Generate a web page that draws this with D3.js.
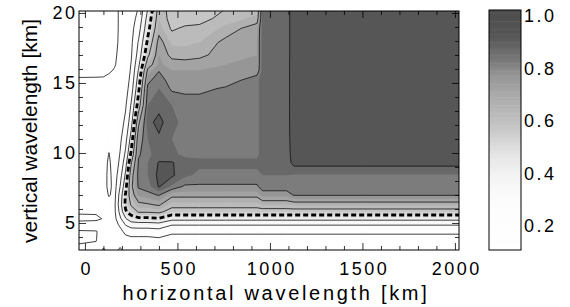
<!DOCTYPE html>
<html lang="en">
<head>
<meta charset="UTF-8">
<title>Coherence vs horizontal and vertical wavelength</title>
<script src="https://cdn.jsdelivr.net/npm/d3@7"></script>
<style>
  body { margin: 0; background: #fff; }
  text { font-family: "Liberation Sans", Arial, Helvetica, sans-serif; fill: #000; }
</style>
</head>
<body>
<svg id="chart" width="570" height="307"></svg>
<script>
// grid nodes, horizontal wavelength [km]
var hWave = [-32, 60, 100, 130, 160, 190, 220, 250, 290, 340, 400, 470, 540, 620, 760, 930, 960, 1090, 1130, 1500, 2022];
// grid nodes, vertical wavelength [km]
var vWave = [3.07, 3.8, 4.4, 4.9, 5.3, 5.8, 6.3, 7.0, 7.6, 8.4, 9.3, 9.9, 11.0, 12.2, 13.4, 14.6, 15.2, 15.9, 16.3, 17.0, 17.9, 18.9, 19.6, 20.14];
// values, one row per vWave node (bottom row first)
var field = [
  [0.185,0.175,0.09,0.12,0.12,0.09,0.12,0.12,0.12,0.12,0.13,0.12,0.12,0.12,0.12,0.12,0.12,0.12,0.12,0.12,0.12],
  [0.21,0.205,0.14,0.14,0.14,0.13,0.16,0.17,0.17,0.17,0.18,0.16,0.16,0.16,0.16,0.16,0.16,0.16,0.16,0.16,0.16],
  [0.21,0.205,0.17,0.15,0.15,0.17,0.23,0.25,0.25,0.25,0.26,0.22,0.22,0.22,0.22,0.22,0.22,0.22,0.22,0.22,0.22],
  [0.13,0.13,0.14,0.14,0.16,0.22,0.31,0.35,0.36,0.36,0.37,0.31,0.31,0.31,0.31,0.31,0.31,0.31,0.31,0.31,0.31],
  [0.08,0.085,0.105,0.13,0.17,0.28,0.39,0.46,0.48,0.48,0.49,0.43,0.43,0.43,0.43,0.43,0.43,0.43,0.43,0.43,0.43],
  [0.11,0.11,0.12,0.13,0.18,0.33,0.49,0.54,0.61,0.61,0.62,0.56,0.56,0.56,0.56,0.56,0.56,0.56,0.56,0.56,0.56],
  [0.13,0.13,0.13,0.15,0.18,0.36,0.52,0.61,0.68,0.69,0.71,0.63,0.63,0.63,0.63,0.63,0.65,0.65,0.66,0.66,0.66],
  [0.13,0.13,0.14,0.21,0.17,0.34,0.51,0.66,0.76,0.78,0.805,0.72,0.72,0.72,0.72,0.72,0.77,0.77,0.805,0.805,0.805],
  [0.13,0.13,0.15,0.23,0.16,0.30,0.47,0.68,0.81,0.83,0.905,0.84,0.79,0.79,0.79,0.79,0.83,0.83,0.83,0.83,0.83],
  [0.13,0.13,0.15,0.23,0.15,0.26,0.42,0.66,0.82,0.85,0.915,0.91,0.86,0.84,0.84,0.84,0.85,0.85,0.845,0.845,0.845],
  [0.13,0.13,0.15,0.22,0.14,0.22,0.36,0.59,0.81,0.85,0.905,0.905,0.87,0.86,0.86,0.86,0.87,0.87,0.92,0.92,0.92],
  [0.13,0.13,0.14,0.205,0.14,0.205,0.32,0.52,0.79,0.84,0.87,0.86,0.84,0.84,0.84,0.84,0.87,0.87,0.93,0.93,0.93],
  [0.13,0.13,0.13,0.16,0.13,0.18,0.27,0.44,0.76,0.85,0.89,0.85,0.84,0.84,0.84,0.84,0.87,0.87,0.94,0.945,0.94],
  [0.13,0.13,0.13,0.14,0.13,0.16,0.22,0.36,0.68,0.88,0.92,0.86,0.84,0.84,0.84,0.84,0.87,0.87,0.945,0.945,0.945],
  [0.125,0.125,0.125,0.13,0.12,0.15,0.19,0.31,0.55,0.85,0.88,0.85,0.84,0.84,0.84,0.84,0.87,0.87,0.945,0.945,0.945],
  [0.12,0.12,0.12,0.125,0.12,0.14,0.16,0.25,0.48,0.82,0.85,0.79,0.78,0.78,0.81,0.84,0.87,0.87,0.945,0.945,0.945],
  [0.115,0.115,0.115,0.12,0.11,0.13,0.15,0.23,0.45,0.78,0.84,0.76,0.75,0.75,0.76,0.84,0.87,0.87,0.945,0.945,0.945],
  [0.06,0.065,0.07,0.09,0.105,0.12,0.15,0.21,0.41,0.72,0.795,0.75,0.75,0.75,0.75,0.76,0.87,0.87,0.945,0.945,0.945],
  [0.06,0.065,0.07,0.085,0.095,0.12,0.14,0.205,0.38,0.66,0.76,0.73,0.73,0.74,0.75,0.75,0.87,0.87,0.945,0.945,0.945],
  [0.06,0.065,0.07,0.08,0.09,0.115,0.14,0.19,0.34,0.58,0.75,0.68,0.67,0.68,0.74,0.75,0.87,0.87,0.94,0.945,0.94],
  [0.06,0.065,0.07,0.08,0.085,0.11,0.14,0.18,0.31,0.52,0.73,0.64,0.64,0.65,0.72,0.75,0.87,0.87,0.94,0.945,0.94],
  [0.06,0.065,0.07,0.08,0.08,0.11,0.13,0.17,0.26,0.47,0.67,0.59,0.61,0.62,0.66,0.74,0.87,0.87,0.94,0.94,0.94],
  [0.06,0.065,0.07,0.08,0.08,0.11,0.13,0.16,0.23,0.44,0.65,0.57,0.57,0.57,0.63,0.66,0.87,0.87,0.94,0.94,0.94],
  [0.06,0.065,0.07,0.08,0.08,0.11,0.13,0.15,0.21,0.41,0.64,0.57,0.56,0.56,0.605,0.64,0.87,0.87,0.94,0.94,0.94]
];

var xMajor = [0, 500, 1000, 1500, 2000];
var yMajor = [5, 10, 15, 20];
var cbTicks = [0.2, 0.4, 0.6, 0.8, 1.0];

var lineLevels = [0.1, 0.2, 0.3, 0.4, 0.6, 0.7, 0.8, 0.9];
var dashLevel = 0.5;
var fillLevels = d3.range(2, 20).map(function(k) { return k * 0.05; });

// grey table for the shading
var grayStops = [0.1, 0.3, 0.4, 0.475, 0.525, 0.575, 0.675, 0.775, 0.825, 0.875, 0.925, 1.0];
var grayLevels = [255, 252, 242, 228, 214, 198, 176, 150, 124, 104, 86, 78];
var grayScale = d3.scaleLinear().domain(grayStops).range(grayLevels).clamp(true);
function gray(v) {
  var c = Math.round(grayScale(v));
  return d3.rgb(c, c, c).toString();
}

var plot = {left: 79, right: 459, top: 11, bottom: 250};
var cb = {left: 489, right: 521, top: 10, bottom: 250};

var x = d3.scaleLinear().domain([-32, 2022]).range([plot.left, plot.right]);
var y = d3.scaleLinear().domain([3.07, 20.14]).range([plot.bottom, plot.top]);
var cbY = d3.scaleLinear().domain([0.2, 1.0]).range([226, 16]);

var svg = d3.select("#chart");
var defs = svg.append("defs");
defs.append("clipPath").attr("id", "plotclip").append("rect")
  .attr("x", plot.left).attr("y", plot.top)
  .attr("width", plot.right - plot.left).attr("height", plot.bottom - plot.top);
defs.append("clipPath").attr("id", "cbclip").append("rect")
  .attr("x", cb.left).attr("y", cb.top)
  .attr("width", cb.right - cb.left).attr("height", cb.bottom - cb.top);

// contour grid coords -> km (values sit at index + 0.5)
function nodeAt(nodes, u) {
  var i = Math.max(0, Math.min(nodes.length - 2, Math.floor(u)));
  return nodes[i] + (u - i) * (nodes[i + 1] - nodes[i]);
}
var proj = d3.geoTransform({
  point: function(px, py) {
    this.stream.point(x(nodeAt(hWave, px - 0.5)), y(nodeAt(vWave, py - 0.5)));
  }
});
var path = d3.geoPath(proj);

var values = [].concat.apply([], field);
var contours = d3.contours().size([hWave.length, vWave.length]);

var g = svg.append("g").attr("clip-path", "url(#plotclip)");
g.append("rect")
  .attr("x", plot.left).attr("y", plot.top)
  .attr("width", plot.right - plot.left).attr("height", plot.bottom - plot.top)
  .attr("fill", "#fff");

fillLevels.forEach(function(t) {
  g.append("path")
    .datum(contours.contour(values, t))
    .attr("d", path)
    .attr("fill", gray(t + 0.025));
});

lineLevels.forEach(function(t) {
  g.append("path")
    .datum(contours.contour(values, t))
    .attr("d", path)
    .attr("fill", "none")
    .attr("stroke", "#111")
    .attr("stroke-width", 0.8);
});

g.append("path")
  .datum(contours.contour(values, dashLevel))
  .attr("d", path)
  .attr("fill", "none")
  .attr("stroke", "#000")
  .attr("stroke-width", 2.8)
  .attr("stroke-dasharray", "5,3");

// frame
svg.append("rect")
  .attr("x", plot.left).attr("y", plot.top)
  .attr("width", plot.right - plot.left).attr("height", plot.bottom - plot.top)
  .attr("fill", "none").attr("stroke", "#000").attr("stroke-width", 1);

var xMinor = d3.range(100, 2000, 100).filter(function(v) { return v % 500; });
var yMinor = d3.range(4, 20).filter(function(v) { return v % 5; });

function ticks(axis, tx, ty) {
  var a = svg.append("g").attr("transform", "translate(" + tx + "," + ty + ")").call(axis);
  a.select(".domain").remove();
  return a;
}

var tickFont = 18, tickSpace = 2.5;

var bx = ticks(d3.axisBottom(x).tickValues(xMajor).tickSize(-7).tickPadding(12).tickFormat(d3.format("d")), 0, plot.bottom);
bx.selectAll("text").attr("font-size", tickFont).attr("letter-spacing", tickSpace).attr("dx", tickSpace / 2);
ticks(d3.axisBottom(x).tickValues(xMinor).tickSize(-4).tickFormat(""), 0, plot.bottom);
ticks(d3.axisTop(x).tickValues(xMajor).tickSize(-7).tickFormat(""), 0, plot.top);
ticks(d3.axisTop(x).tickValues(xMinor).tickSize(-4).tickFormat(""), 0, plot.top);

var ly = ticks(d3.axisLeft(y).tickValues(yMajor).tickSize(-7).tickPadding(0).tickFormat(d3.format("d")), plot.left, 0);
ly.selectAll("text").attr("font-size", tickFont).attr("letter-spacing", tickSpace).attr("dx", tickSpace - 4);
ticks(d3.axisLeft(y).tickValues(yMinor).tickSize(-4).tickFormat(""), plot.left, 0);
ticks(d3.axisRight(y).tickValues(yMajor).tickSize(-7).tickFormat(""), plot.right, 0);
ticks(d3.axisRight(y).tickValues(yMinor).tickSize(-4).tickFormat(""), plot.right, 0);

svg.selectAll(".tick line").attr("stroke", "#000").attr("stroke-width", 0.8);

// axis titles
svg.append("text")
  .attr("x", 276).attr("y", 300)
  .attr("text-anchor", "middle")
  .attr("font-size", 20).attr("letter-spacing", 2.7)
  .text("horizontal wavelength [km]");

svg.append("text")
  .attr("transform", "translate(37,131) rotate(-90)")
  .attr("text-anchor", "middle")
  .attr("font-size", 21)
  .text("vertical wavelength [km]");

// colour bar
var cbg = svg.append("g").attr("clip-path", "url(#cbclip)");
cbg.selectAll("rect")
  .data(d3.range(10, 103).map(function(k) { return k * 0.01; }))
  .join("rect")
  .attr("x", cb.left).attr("width", cb.right - cb.left)
  .attr("y", function(t) { return cbY(t + 0.01); })
  .attr("height", function(t) { return cbY(t) - cbY(t + 0.01) + 0.5; })
  .attr("fill", function(t) { return gray(Math.min(t + 0.005, 1)); });

svg.append("rect")
  .attr("x", cb.left).attr("y", cb.top)
  .attr("width", cb.right - cb.left).attr("height", cb.bottom - cb.top)
  .attr("fill", "none").attr("stroke", "#000").attr("stroke-width", 1);

svg.append("g").selectAll("text")
  .data(cbTicks)
  .join("text")
  .attr("x", cb.right + 3)
  .attr("y", function(v) { return cbY(v); })
  .attr("dy", "0.36em")
  .attr("font-size", tickFont).attr("letter-spacing", tickSpace)
  .text(d3.format(".1f"));
</script>
</body>
</html>
